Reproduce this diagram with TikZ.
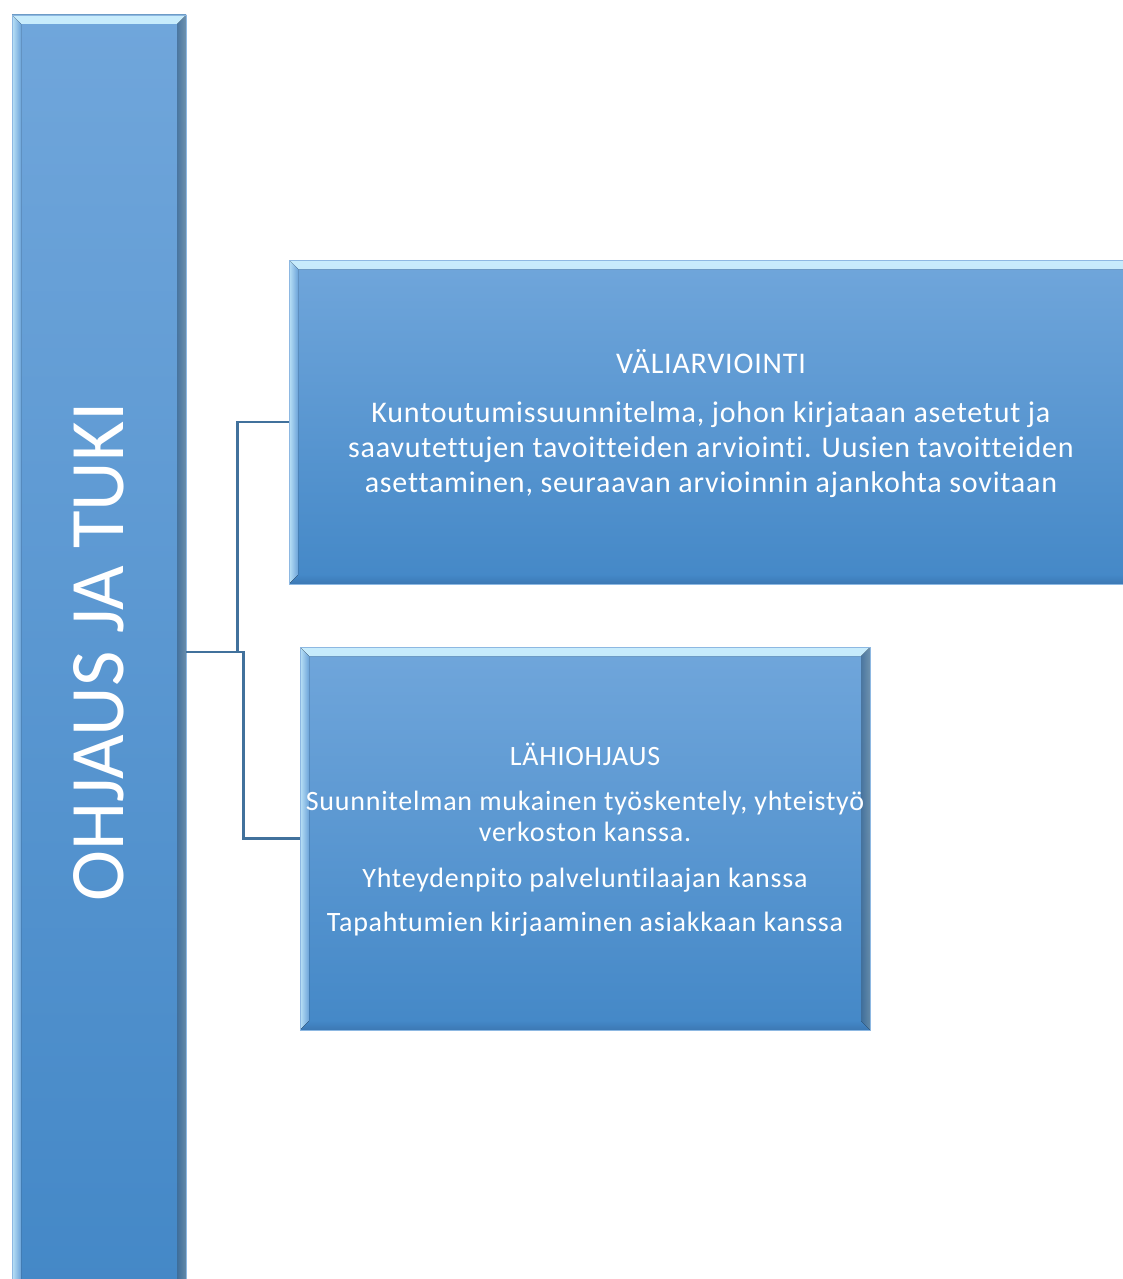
\documentclass[tikz,border=0pt]{standalone}
\usepackage{fontspec}
\setmainfont{Carlito}[RawFeature=-liga]
\newfontfamily\boxfont{Carlito}[LetterSpace=2.7,RawFeature=-liga]
\definecolor{boxtop}{RGB}{112,166,219}
\definecolor{boxbot}{RGB}{68,136,199}
\definecolor{bevlight}{RGB}{200,236,252}
\definecolor{bevdark}{RGB}{60,120,180}
\definecolor{conncol}{RGB}{65,113,156}
\tikzset{
  x=1pt, y=-1pt,
  bevelbox/.style={rectangle, inner sep=0pt, top color=boxtop, bottom color=boxbot,
    draw=boxtop!80!white, line width=0.6pt, text=white, align=center,
    path picture={
      \fill[top color=bevlight, bottom color=boxtop]
        (path picture bounding box.north west) -- (path picture bounding box.north east)
        -- ([xshift=-9pt,yshift=-9pt]path picture bounding box.north east)
        -- ([xshift=9pt,yshift=-9pt]path picture bounding box.north west) -- cycle;
      \fill[left color=bevlight!85!boxtop, right color=boxtop!90!boxbot]
        (path picture bounding box.north west) -- ([xshift=9pt,yshift=-9pt]path picture bounding box.north west)
        -- ([xshift=9pt,yshift=9pt]path picture bounding box.south west)
        -- (path picture bounding box.south west) -- cycle;
      \fill[right color=bevlight!70!boxtop, left color=boxtop!60!boxbot, opacity=0.45]
        (path picture bounding box.north east) -- ([xshift=-9pt,yshift=-9pt]path picture bounding box.north east)
        -- ([xshift=-9pt,yshift=9pt]path picture bounding box.south east)
        -- (path picture bounding box.south east) -- cycle;
      \fill[bottom color=bevdark, top color=boxbot]
        (path picture bounding box.south west) -- (path picture bounding box.south east)
        -- ([xshift=-9pt,yshift=9pt]path picture bounding box.south east)
        -- ([xshift=9pt,yshift=9pt]path picture bounding box.south west) -- cycle;
    }},
  boxtext/.style={text=white, align=center, inner sep=0pt},
  conn/.style={draw=conncol, line width=2.4pt}
}
\begin{document}
\begin{tikzpicture}
\useasboundingbox (0,0) rectangle (1123,1279);
\clip (0,0) rectangle (1123,1279);
\fill[white] (0,0) rectangle (1123,1279);
% left bar
\node[bevelbox, minimum width=174pt, minimum height=1274pt] (bar) at (99,652) {};
\node[text=white, rotate=90, anchor=base, inner sep=0pt, font=\fontsize{77}{90}\selectfont] (bartext) at (123,652) {OHJAUS JA TUKI};
% box 1
\node[bevelbox, minimum width=844pt, minimum height=324pt] (box1) at (711,422) {};
\node[boxtext, font=\boxfont\fontsize{30}{35}\selectfont] (t1) at (711,424)
  {VÄLIARVIOINTI\\[14pt]
   Kuntoutumissuunnitelma, johon kirjataan asetetut ja\\
   saavutettujen tavoitteiden arviointi. Uusien tavoitteiden\\
   asettaminen, seuraavan arvioinnin ajankohta sovitaan};
% box 2
\node[bevelbox, minimum width=570pt, minimum height=383pt] (box2) at (585,838.5) {};
\node[boxtext, font=\boxfont\fontsize{28}{31}\selectfont] (t2) at (585,840)
  {LÄHIOHJAUS\\[14pt]
   Suunnitelman mukainen työskentely, yhteistyö\\
   verkoston kanssa.\\[15pt]
   Yhteydenpito palveluntilaajan kanssa\\[13pt]
   Tapahtumien kirjaaminen asiakkaan kanssa};
% connectors
\draw[conn] (bar.east) -- ++(51,0) |- (box1.west);
\draw[conn] (bar.east) -- ++(57,0) |- (box2.west);
\end{tikzpicture}
\end{document}
